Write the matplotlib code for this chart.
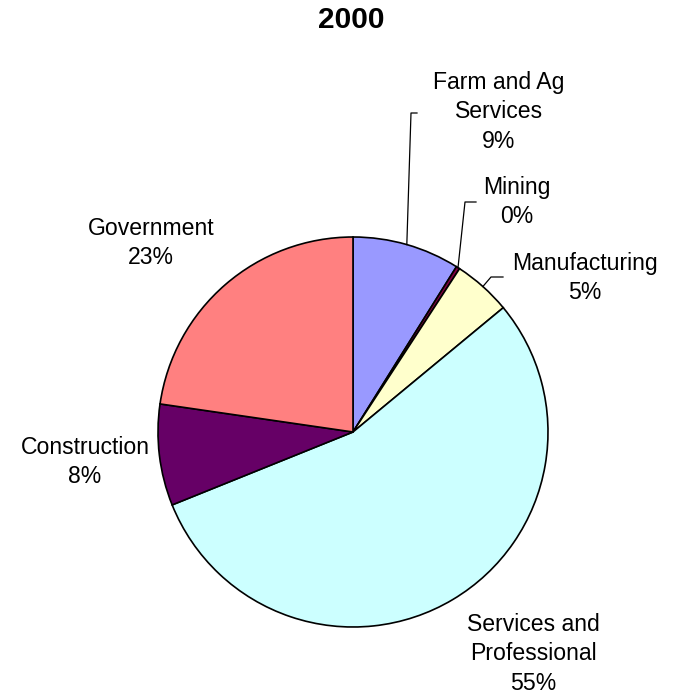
import matplotlib
matplotlib.use("Agg")
import matplotlib.pyplot as plt
import numpy as np

plt.rcParams['font.family'] = ['Liberation Sans', 'DejaVu Sans']

# slices, clockwise from 12 o'clock
sectors = ["Farm and Ag\nServices", "Mining", "Manufacturing",
           "Services and\nProfessional", "Construction", "Government"]
shares = [8.9, 0.3, 4.8, 54.9, 8.4, 22.7]
colors = ["#9999FF", "#800040", "#FFFFCC", "#CCFFFF", "#660066", "#FF8080"]

W, H = 674, 695
cx, cy, R = 353, H - 432, 195

# label text centres (pixels, y down) and leader elbows
label_pos = [(499, 112), (517, 202), (585, 278), (533, 654), (85, 462), (151, 243)]
leaders = {0: [(411, 113), (417, 113)],
           1: [(465, 202), (476, 202)],
           2: [(491, 277), (503, 277)]}

fig = plt.figure(figsize=(W / 100, H / 100), dpi=100)
ax = fig.add_axes([0, 0, 1, 1])

wedges, _ = ax.pie(shares, colors=colors, startangle=90, counterclock=False,
                   center=(cx, cy), radius=R, frame=True,
                   wedgeprops=dict(edgecolor='black', linewidth=1.2))
ax.set_xlim(0, W)
ax.set_ylim(0, H)
ax.set_aspect('equal')
ax.axis('off')

total = sum(shares)
for i, (name, val) in enumerate(zip(sectors, shares)):
    pct = round(val / total * 100)
    x, y = label_pos[i]
    ax.text(x, H - y, f"{name}\n{pct}%", ha='center', va='center',
            fontsize=16.6, linespacing=1.38)
    if i in leaders:
        w = wedges[i]
        mid = np.deg2rad((w.theta1 + w.theta2) / 2)
        px, py = cx + R * np.cos(mid), cy + R * np.sin(mid)
        xs = [px] + [p[0] for p in leaders[i]]
        ys = [py] + [H - p[1] for p in leaders[i]]
        ax.plot(xs, ys, color='black', linewidth=0.9)

ax.text(351, H - 20, "2000", ha='center', va='center', fontsize=21.5, fontweight='bold')

fig.savefig("out.png", dpi=100)
